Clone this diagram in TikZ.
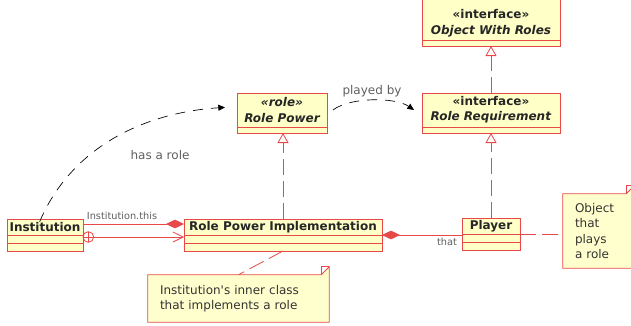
\documentclass[tikz,border=0pt]{standalone}
\usepackage{fontspec}
\setmainfont{DejaVu Sans}
\usetikzlibrary{arrows.meta,positioning,backgrounds}

\definecolor{umlred}{RGB}{232,72,72}
\definecolor{umlfill}{RGB}{255,255,200}
\definecolor{notefill}{RGB}{255,255,206}
\definecolor{lblgray}{RGB}{95,95,95}

\begin{document}
\begin{tikzpicture}[x=0.75pt,y=0.75pt,yscale=-1,
	cls/.style={draw=umlred,fill=umlfill,line width=0.6pt,inner sep=0pt,outer sep=0pt,text=black!85,font=\bfseries\fontsize{9}{11}\selectfont},
	cmp/.style={draw=umlred,fill=umlfill,line width=0.6pt,inner sep=0pt,outer sep=0pt,below=0pt of #1},
	assoc/.style={draw=umlred,line width=0.6pt},
	real/.style={draw=umlred,line width=0.6pt,dash pattern={on 12pt off 4.5pt},-{Triangle[open,length=7.5pt,width=8.25pt]}},
	notelink/.style={draw=umlred,line width=0.6pt,dash pattern={on 12pt off 4.5pt}},
	dep/.style={line width=0.5pt,dash pattern={on 7.5pt off 6pt},-{Triangle[length=5pt,width=4.5pt]}},
	lbl/.style={inner sep=0.75pt,text=lblgray,font=\fontsize{9}{11}\selectfont},
	smalllbl/.style={inner sep=0.75pt,text=lblgray,font=\fontsize{7.3}{9}\selectfont},
	notetxt/.style={inner xsep=9pt,inner ysep=0pt,align=left,text=black!80,font=\fontsize{9}{11.5}\selectfont},
	notebox/.style={draw=umlred,fill=notefill,line width=0.6pt}]
	\useasboundingbox (0,0) rectangle (631,325);
	\clip (0,0) rectangle (631,325);

	%Classes
	\node[cls,minimum width=57pt,minimum height=12pt] (inst) at (45,227) {Institution};
	\node[cmp=inst,minimum width=57pt,minimum height=6pt] (instA) {};
	\node[cmp=instA,minimum width=57pt,minimum height=6pt] (instB) {};

	\node[cls,minimum width=148.5pt,minimum height=12pt] (rpi) at (283,227) {Role Power Implementation};
	\node[cmp=rpi,minimum width=148.5pt,minimum height=6pt] (rpiA) {};
	\node[cmp=rpiA,minimum width=148.5pt,minimum height=6pt] (rpiB) {};

	\node[cls,minimum width=43.5pt,minimum height=12pt] (player) at (491,226) {Player};
	\node[cmp=player,minimum width=43.5pt,minimum height=6pt] (playerA) {};
	\node[cmp=playerA,minimum width=43.5pt,minimum height=6pt] (playerB) {};

	\node[cls,align=center,minimum width=67.5pt,minimum height=25.5pt,font=\bfseries\itshape\fontsize{9}{12}\selectfont] (rp) at (282,110) {«role»\\Role Power};
	\node[cmp=rp,minimum width=67.5pt,minimum height=4.5pt] (rpB) {};

	\node[cls,align=center,minimum width=103.5pt,minimum height=25.5pt] (rr) at (491,110) {«interface»\\\textit{Role Requirement}};
	\node[cmp=rr,minimum width=103.5pt,minimum height=4.5pt] (rrB) {};

	%Interface cut at the top edge
	\draw[assoc,fill=umlfill] (422,-4) rectangle (560,40);
	\node[inner sep=0pt,align=center,text=black!85,font=\bfseries\fontsize{9}{12}\selectfont] (owr) at (491,23) {«interface»\\\textit{Object With Roles}};
	\node[cls,anchor=north,minimum width=103.5pt,minimum height=4.5pt] (owrB) at (491,40) {};

	%Notes
	\node[notetxt,minimum width=135.75pt,minimum height=35.25pt,text width=117.75pt] (noteinner) at (238.5,298.5) {Institution\textquotesingle s inner class\\that implements a role};
	\node[notetxt,minimum width=53.25pt,minimum height=55.5pt,text width=35.25pt] (noteplayer) at (598.5,231) {Object\\that\\plays\\a role};
	\begin{scope}[on background layer]
		\foreach \n in {noteinner,noteplayer}{
			\draw[notebox] (\n.north west) -- ([xshift=-6pt]\n.north east) -- ([yshift=-6pt]\n.north east) -- (\n.south east) -- (\n.south west) -- cycle;
			\draw[assoc] ([xshift=-6pt]\n.north east) |- ([yshift=-6pt]\n.north east);
		}
	\end{scope}

	%Realizations
	\draw[real] (rpi.north) -- (rpi.north |- rpB.south);
	\draw[real] (player.north) -- (player.north |- rrB.south);
	\draw[real] (rr.north) -- (rr.north |- owrB.south);

	%Compositions
	\draw[assoc,-{Diamond[length=13.5pt,width=6.5pt]}] ([yshift=-2.25pt]inst.east) -- ([yshift=-2.25pt]rpi.west);
	\draw[assoc,{Diamond[length=13.5pt,width=6.5pt]}-] (rpi.south east) -- (rpi.south east -| player.west);

	%Nesting
	\draw[assoc,-{Straight Barb[length=7.5pt,width=7.5pt]}] ([yshift=-1.5pt]instA.east) -- ([yshift=-1.5pt]rpiA.west);
	\draw[assoc] ([xshift=4pt,yshift=-1.5pt]instA.east) circle[radius=4pt];
	\draw[assoc] ([xshift=4pt,yshift=2.5pt]instA.east) -- ([xshift=4pt,yshift=-5.5pt]instA.east);

	%Note links
	\draw[notelink] (rpiB.south) -- (noteinner.north);
	\draw[notelink] (playerA.north east) -- (playerA.north east -| noteplayer.west);

	%Dependencies
	\draw[dep] ([xshift=-4pt,yshift=2pt]inst.north) .. controls (70,150) and (140,113) .. ([xshift=-9pt,yshift=-2pt]rp.west);
	\draw[dep] ([xshift=4.5pt]rp.east) .. controls (350,97) and (395,97) .. ([xshift=-6pt]rr.west);

	% Text Node
	\node[smalllbl] (lthis) at (122,216) {Institution.this};
	% Text Node
	\node[smalllbl] (lthat) at (447,242) {that};
	% Text Node
	\node[lbl] (lhas) at (160,155) {has a role};
	% Text Node
	\node[lbl] (lplayed) at (372,91) {played by};
\end{tikzpicture}
\end{document}
